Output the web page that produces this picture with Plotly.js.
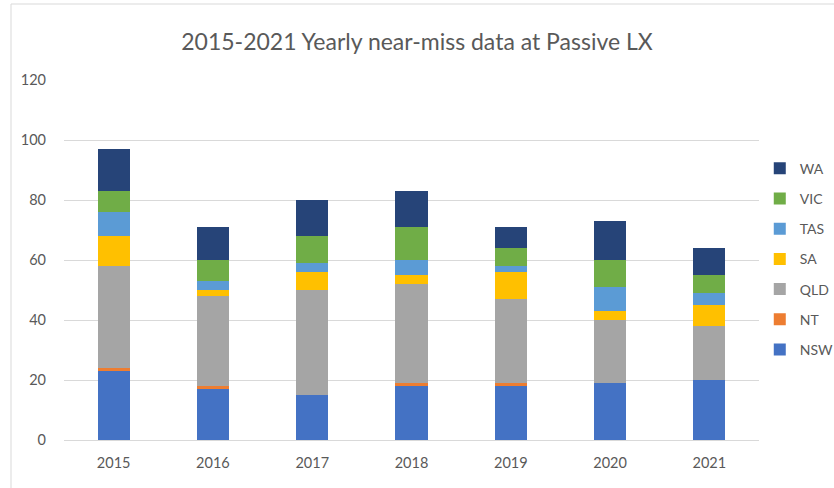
<!DOCTYPE html>
<html>
<head>
<meta charset="utf-8">
<script src="https://cdn.plot.ly/plotly-3.0.1.min.js"></script>
<style>
html,body{margin:0;padding:0;background:#fff;}
#chart{width:834px;height:488px;}
</style>
</head>
<body>
<div id="chart"></div>
<script>
const years = ['2015','2016','2017','2018','2019','2020','2021'];
const NSW = [23, 17, 15, 18, 18, 19, 20];
const NT  = [1, 1, 0, 1, 1, 0, 0];
const QLD = [34, 30, 35, 33, 28, 21, 18];
const SA  = [10, 2, 6, 3, 9, 3, 7];
const TAS = [8, 3, 3, 5, 2, 8, 4];
const VIC = [7, 7, 9, 11, 6, 9, 6];
const WA  = [14, 11, 12, 12, 7, 13, 9];

const seriesNames = ['NSW','NT','QLD','SA','TAS','VIC','WA'];
const seriesVals = [NSW, NT, QLD, SA, TAS, VIC, WA];
const colors = ['#4472C4','#ED7D31','#A5A5A5','#FFC000','#5B9BD5','#70AD47','#264478'];

const traces = seriesNames.map((n, i) => ({
  type: 'bar',
  name: n,
  x: years,
  y: seriesVals[i],
  marker: {color: colors[i], line: {width: 0}},
  legendgroup: n,
  legendrank: 1000 - i,
  hoverinfo: 'x+y+name'
}));

const font = "Lato, 'Open Sans', 'Liberation Sans', sans-serif";

const layout = {
  width: 834,
  height: 488,
  barmode: 'stack',
  bargap: 0.675,
  paper_bgcolor: '#ffffff',
  plot_bgcolor: '#ffffff',
  margin: {l: 64, r: 75, t: 80, b: 48, autoexpand: false},
  font: {family: font, color: '#595959', size: 14},
  title: {
    text: '2015-2021 Yearly near-miss data at Passive LX',
    font: {family: font, size: 23, color: '#595959'},
    x: 0.5, xanchor: 'center',
    y: 0.914, yanchor: 'middle'
  },
  xaxis: {
    type: 'category',
    showgrid: false,
    showline: true,
    linecolor: '#D9D9D9',
    linewidth: 1,
    ticks: '',
    ticklabelstandoff: 10,
    tickfont: {size: 14.5, color: '#595959'},
    fixedrange: true
  },
  yaxis: {
    range: [0, 120],
    dtick: 20,
    showgrid: true,
    gridcolor: '#D9D9D9',
    gridwidth: 1,
    zeroline: false,
    showline: false,
    ticks: '',
    ticklabelstandoff: 17,
    tickfont: {size: 14.5, color: '#595959'},
    fixedrange: true
  },
  legend: {
    traceorder: 'grouped',
    tracegroupgap: 9,
    xref: 'container',
    x: 0.911,
    xanchor: 'left',
    y: 0.798,
    yanchor: 'top',
    font: {size: 14, color: '#595959'},
    bgcolor: 'rgba(0,0,0,0)'
  },
  shapes: [{
    type: 'rect',
    xref: 'paper', yref: 'paper',
    x0: -53/695, x1: 1.2,
    y0: -0.2, y1: 1 + 76/360,
    line: {color: '#D9D9D9', width: 1},
    fillcolor: 'rgba(0,0,0,0)',
    layer: 'below'
  }],
  showlegend: true
};

Plotly.newPlot('chart', traces, layout, {displayModeBar: false, staticPlot: true});
</script>
</body>
</html>
